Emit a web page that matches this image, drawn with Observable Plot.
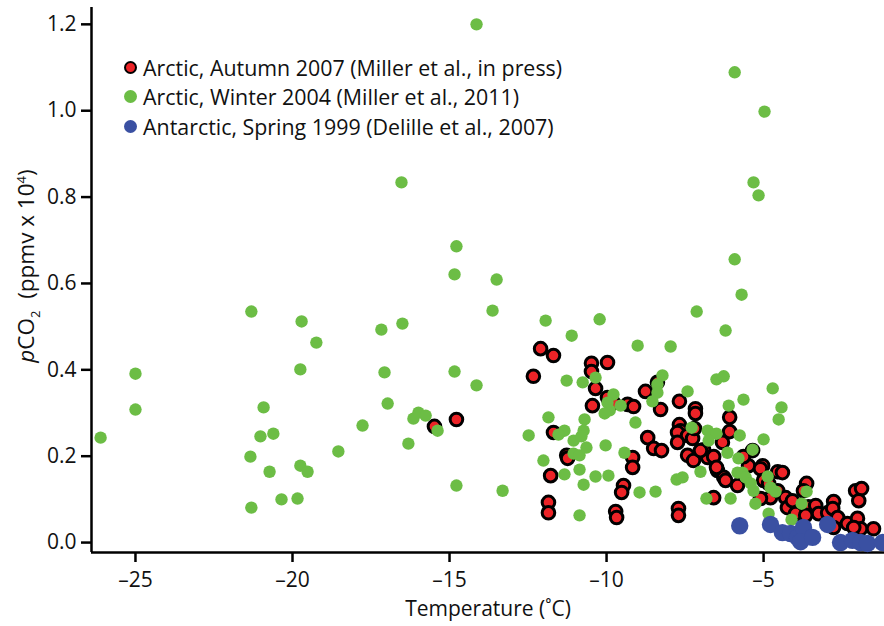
<!DOCTYPE html>
<html><head><meta charset="utf-8">
<script src="https://cdn.jsdelivr.net/npm/d3@7"></script>
<script src="https://cdn.jsdelivr.net/npm/@observablehq/plot@0.6"></script>
<style>
body{margin:0;background:#fff;font-family:"Open Sans",sans-serif;}
#wrap{position:relative;width:884px;height:626px;overflow:hidden;}
#legend{position:absolute;left:124px;top:53px;font-size:21.4px;line-height:29.3px;color:#111;}
.row{display:flex;align-items:center;white-space:nowrap;}
.dot{display:inline-block;border-radius:50%;margin-right:6px;box-sizing:border-box;}
#ylab{position:absolute;left:27px;top:266px;transform:translate(-50%,-50%) rotate(-90deg);font-size:22.5px;white-space:nowrap;color:#111;}
#ylab sub,#ylab sup{font-size:13px;}
svg text{fill:#111;}
</style></head>
<body><div id="wrap"><div id="chart"></div>
<div id="legend"></div>
<div id="ylab"><i>p</i>CO<sub>2</sub>&nbsp;&nbsp;(ppmv x 10<sup>4</sup>)</div>
</div>
<script>
// Arctic, Autumn 2007 (red)
const autumnT = [-15.48,-14.78,-12.10,-11.69,-12.33,-10.48,-10.48,-9.97,-10.35,-10.45,-9.97,-9.78,-9.33,-9.14,-8.76,-8.38,-8.28,-7.68,-7.17,-7.17,-7.68,-7.64,-7.74,-7.42,-7.26,-7.74,-7.20,-8.69,-8.50,-8.25,-7.42,-7.23,-6.91,-6.78,-11.69,-11.27,-11.24,-11.78,-11.85,-11.85,-9.17,-9.17,-9.46,-9.52,-9.71,-9.68,-7.71,-7.71,-6.08,-6.08,-6.31,-6.59,-7.01,-6.47,-6.27,-6.21,-5.83,-5.48,-5.35,-5.64,-5.03,-5.10,-4.55,-4.40,-5.00,-4.84,-4.78,-5.10,-4.55,-4.30,-4.24,-4.08,-3.63,-3.73,-3.57,-3.34,-3.25,-2.96,-2.77,-2.80,-2.64,-2.33,-2.07,-1.88,-1.97,-2.01,-1.91,-2.13,-1.50,-6.59,-3.98,-3.66,-2.77,-6.50];
const autumnP = [0.269,0.285,0.449,0.433,0.385,0.415,0.396,0.417,0.357,0.317,0.336,0.324,0.320,0.315,0.350,0.371,0.308,0.327,0.310,0.299,0.273,0.259,0.255,0.248,0.241,0.232,0.264,0.243,0.218,0.213,0.202,0.190,0.215,0.197,0.255,0.202,0.195,0.155,0.093,0.069,0.197,0.174,0.132,0.116,0.072,0.058,0.079,0.063,0.290,0.257,0.232,0.199,0.213,0.167,0.151,0.144,0.132,0.178,0.213,0.199,0.178,0.171,0.164,0.162,0.144,0.137,0.104,0.102,0.120,0.104,0.081,0.097,0.137,0.120,0.083,0.086,0.067,0.069,0.095,0.079,0.058,0.044,0.120,0.125,0.097,0.056,0.032,0.035,0.032,0.104,0.067,0.063,0.035,0.174];
// Arctic, Winter 2004 (green)
const winterT = [-26.11,-25.00,-25.00,-21.31,-21.34,-21.31,-20.92,-21.02,-20.61,-20.73,-20.35,-19.84,-19.71,-19.75,-19.75,-19.52,-19.24,-17.17,-16.50,-17.07,-16.97,-17.77,-18.54,-16.31,-16.15,-15.99,-15.76,-15.38,-16.53,-14.78,-14.84,-14.84,-14.78,-14.14,-14.14,-13.50,-13.63,-13.31,-12.48,-11.94,-11.85,-12.01,-11.11,-11.27,-10.76,-10.35,-10.22,-11.34,-11.53,-11.05,-11.34,-10.86,-10.73,-10.35,-9.94,-10.86,-10.70,-11.05,-10.86,-10.64,-10.03,-9.43,-10.73,-10.80,-9.78,-9.97,-9.90,-10.06,-9.55,-9.08,-9.01,-7.96,-8.22,-8.38,-8.38,-8.54,-7.42,-7.29,-6.78,-8.95,-8.44,-7.77,-7.58,-7.01,-6.82,-5.92,-5.70,-7.13,-6.21,-6.50,-6.27,-4.71,-5.64,-4.43,-6.11,-4.52,-6.69,-6.50,-6.75,-5.76,-5.00,-6.15,-5.35,-5.80,-5.83,-5.67,-5.57,-5.41,-5.32,-4.87,-4.78,-4.62,-6.05,-5.26,-4.84,-3.63,-3.79,-4.11,-5.92,-4.97,-5.32,-5.16];
const winterP = [0.243,0.391,0.308,0.535,0.199,0.081,0.313,0.246,0.252,0.164,0.100,0.102,0.512,0.401,0.178,0.164,0.463,0.493,0.507,0.394,0.322,0.271,0.211,0.229,0.287,0.301,0.294,0.259,0.834,0.686,0.621,0.396,0.132,1.200,0.364,0.609,0.537,0.120,0.248,0.514,0.290,0.190,0.479,0.375,0.371,0.382,0.517,0.259,0.250,0.236,0.158,0.169,0.134,0.153,0.155,0.063,0.285,0.206,0.202,0.220,0.225,0.208,0.259,0.246,0.343,0.324,0.306,0.299,0.317,0.278,0.456,0.454,0.387,0.366,0.347,0.327,0.350,0.266,0.259,0.116,0.118,0.146,0.151,0.164,0.102,0.656,0.574,0.535,0.491,0.378,0.385,0.357,0.331,0.313,0.317,0.285,0.252,0.252,0.236,0.248,0.239,0.208,0.215,0.195,0.162,0.162,0.151,0.137,0.120,0.153,0.127,0.118,0.102,0.090,0.067,0.118,0.090,0.053,1.089,0.998,0.834,0.804];
// Antarctic, Spring 1999 (blue)
const springT = [-5.76,-4.78,-4.40,-4.14,-3.92,-3.73,-3.82,-3.44,-2.96,-2.55,-2.17,-1.91,-1.69,-1.21];
const springP = [0.039,0.042,0.023,0.021,0.012,0.035,0.002,0.012,0.042,0.000,0.005,0.000,-0.002,0.000];

const xTicks = [-25,-20,-15,-10,-5];
const yTicks = [0,0.2,0.4,0.6,0.8,1.0,1.2];
const xDomain = [-26.4,-1.15];
const yDomain = [-0.023,1.239];

const series = [
  {name:"Arctic, Autumn 2007 (Miller et al., in press)", fill:"#ec2327", stroke:"#000", T:autumnT, P:autumnP},
  {name:"Arctic, Winter 2004 (Miller et al., 2011)", fill:"#6cbd45", stroke:"none", T:winterT, P:winterP},
  {name:"Antarctic, Spring 1999 (Delille et al., 2007)", fill:"#3a50a2", stroke:"none", T:springT, P:springP}
];
const tbl = s => s.T.map((t,i)=>({t, p:s.P[i]}));

const plot = Plot.plot({
  width:884, height:626,
  marginLeft:91, marginRight:0, marginTop:7, marginBottom:74,
  style:{fontFamily:'"Open Sans",sans-serif', fontSize:"21px", background:"#fff", overflow:"visible"},
  x:{domain:xDomain},
  y:{domain:yDomain},
  marks:[
    Plot.axisX({ticks:xTicks, tickSize:10, tickPadding:10, fontSize:21, tickFormat:d=>"\u2013"+Math.abs(d), strokeWidth:2.5, label:null}),
    Plot.axisY({ticks:yTicks, tickSize:10, tickPadding:5, fontSize:21, tickFormat:d=>d.toFixed(1), strokeWidth:2.5, label:null}),
    Plot.text(["Temperature (˚C)"], {frameAnchor:"bottom", dy:57, fontSize:21, text:d=>d, lineAnchor:"middle"}),
    Plot.ruleX([xDomain[0]], {stroke:"#000", strokeWidth:2.5}),
    Plot.ruleY([yDomain[0]], {stroke:"#000", strokeWidth:2.5}),
    Plot.dot(tbl(series[0]), {x:"t", y:"p", r:6.3, fill:series[0].fill, stroke:"#000", strokeWidth:3}),
    Plot.dot(tbl(series[1]), {x:"t", y:"p", r:6.2, fill:series[1].fill}),
    Plot.dot(tbl(series[2]), {x:"t", y:"p", r:8.7, fill:series[2].fill})
  ]
});
document.getElementById("chart").appendChild(plot);

const leg = document.getElementById("legend");
series.forEach(s=>{
  const row = document.createElement("div"); row.className="row";
  const d = document.createElement("span"); d.className="dot";
  d.style.width="13px"; d.style.height="13px"; d.style.background=s.fill;
  if (s.stroke!=="none") d.style.border="2.5px solid #000";
  row.appendChild(d);
  const t = document.createElement("span"); t.textContent=s.name; row.appendChild(t);
  leg.appendChild(row);
});
</script></body></html>
